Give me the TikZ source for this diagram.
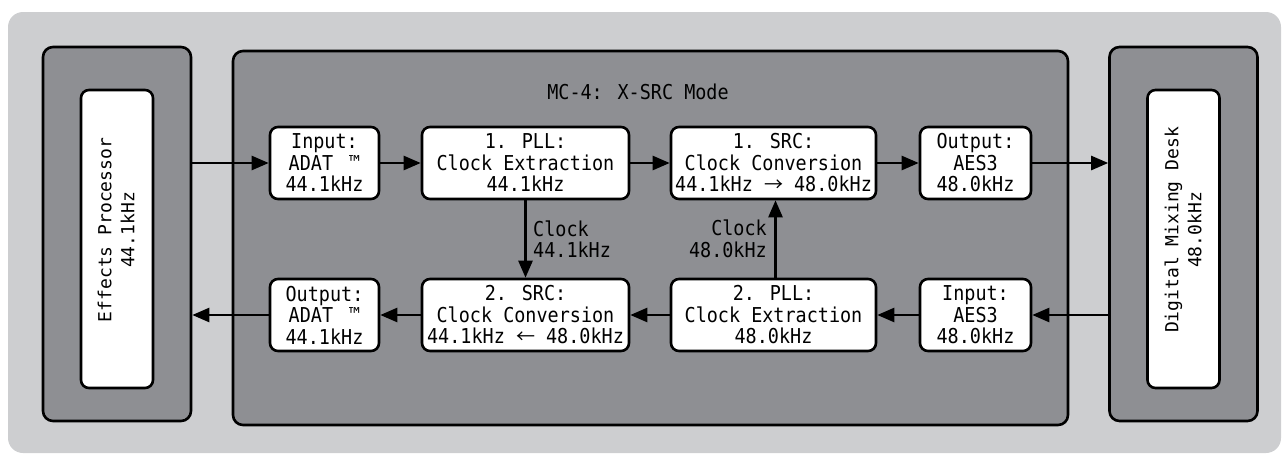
\documentclass[tikz,border=0pt]{standalone}
\usepackage{fontspec}
\newfontfamily\gfont[FakeStretch=0.9]{DejaVu Sans Mono}
\newfontfamily\rfont{DejaVu Sans Mono}
\newfontfamily\cjkfont{Noto Sans CJK JP}
\usetikzlibrary{arrows.meta}
\definecolor{lightbg}{HTML}{CDCED0}
\definecolor{darkbg}{HTML}{8E8F93}
\tikzset{
  container/.style={draw=black, line width=2.6pt, rounded corners=10pt, fill=darkbg, inner sep=0pt},
  devbox/.style={draw=black, line width=2.6pt, rounded corners=8pt, fill=white, inner sep=0pt},
  blk/.style={draw=black, line width=2.6pt, rounded corners=8pt, fill=white, align=center, inner sep=0pt,
    font=\gfont\fontsize{20.5}{21.5}\selectfont},
  devtext/.style={rotate=90, align=center, inner sep=0pt, font=\rfont\fontsize{18}{23}\selectfont},
  lbl/.style={inner sep=0pt, font=\gfont\fontsize{20.5}{21.5}\selectfont},
  flow/.style={line width=2.5pt, -{Triangle[length=17pt,width=14pt]}},
}
\newcommand{\rarr}{{\cjkfont\fontsize{19}{19}\selectfont →}}
\newcommand{\larr}{{\cjkfont\fontsize{19}{19}\selectfont ←}}
\begin{document}
\begin{tikzpicture}[x=1pt,y=-1pt]
\useasboundingbox (0,0) rectangle (1285,458);
% background
\fill[lightbg, rounded corners=15pt] (8,12) rectangle (1281,453);
% containers
\node[container, minimum width=148pt, minimum height=374pt] (left) at (117,234) {};
\node[devbox, minimum width=72pt, minimum height=298pt] (leftin) at (117,239) {};
\node[devtext] (lefttxt) at (116,230) {Effects Processor\\44.1kHz};
\node[container, minimum width=148pt, minimum height=374pt] (right) at (1183.5,234) {};
\node[devbox, minimum width=72pt, minimum height=298pt] (rightin) at (1183.5,239) {};
\node[devtext] (righttxt) at (1183,230) {Digital Mixing Desk\\48.0kHz};
\node[container, minimum width=835pt, minimum height=374pt] (mc) at (650.5,238) {};
\node[lbl] (title) at (638,92) {MC-4: X-SRC Mode};
% top row
\node[blk, minimum width=109pt, minimum height=72pt] (inadat) at (324.5,163) {Input:\\ADAT\hspace{5pt} ™\\44.1kHz};
\node[blk, minimum width=207pt, minimum height=72pt] (pll1) at (525.5,163) {1. PLL:\\Clock Extraction\\44.1kHz};
\node[blk, minimum width=205pt, minimum height=72pt] (src1) at (773.5,163) {1. SRC:\\Clock Conversion\\44.1kHz \rarr{} 48.0kHz};
\node[blk, minimum width=111pt, minimum height=72pt] (outaes) at (975.5,163) {Output:\\AES3\\48.0kHz};
% bottom row
\node[blk, minimum width=109pt, minimum height=72pt] (outadat) at (324.5,315) {Output:\\ADAT\hspace{5pt} ™\\44.1kHz};
\node[blk, minimum width=207pt, minimum height=72pt] (src2) at (525.5,315) {2. SRC:\\Clock Conversion\\44.1kHz \larr{} 48.0kHz};
\node[blk, minimum width=205pt, minimum height=72pt] (pll2) at (773.5,315) {2. PLL:\\Clock Extraction\\48.0kHz};
\node[blk, minimum width=111pt, minimum height=72pt] (inaes) at (975.5,315) {Input:\\AES3\\48.0kHz};
% clock labels
\node[lbl, align=left, anchor=west] (clk1) at (533,239) {Clock\\44.1kHz};
\node[lbl, align=right, anchor=east] (clk2) at (767,239) {Clock\\48.0kHz};
% connectors
\draw[flow] (inadat.west -| left.east) -- (inadat.west);
\draw[flow] (inadat) -- (pll1);
\draw[flow] (pll1) -- (src1);
\draw[flow] (src1) -- (outaes);
\draw[flow] (outaes.east) -- (outaes.east -| right.west);
\draw[flow] (inaes.east -| right.west) -- (inaes.east);
\draw[flow] (inaes) -- (pll2);
\draw[flow] (pll2) -- (src2);
\draw[flow] (src2) -- (outadat);
\draw[flow] (outadat.west) -- (outadat.west -| left.east);
\draw[flow] (pll1.south) -- (src2.north);
\draw[flow] ([xshift=2pt]pll2.north) -- ([xshift=2pt]src1.south);
\end{tikzpicture}
\end{document}
